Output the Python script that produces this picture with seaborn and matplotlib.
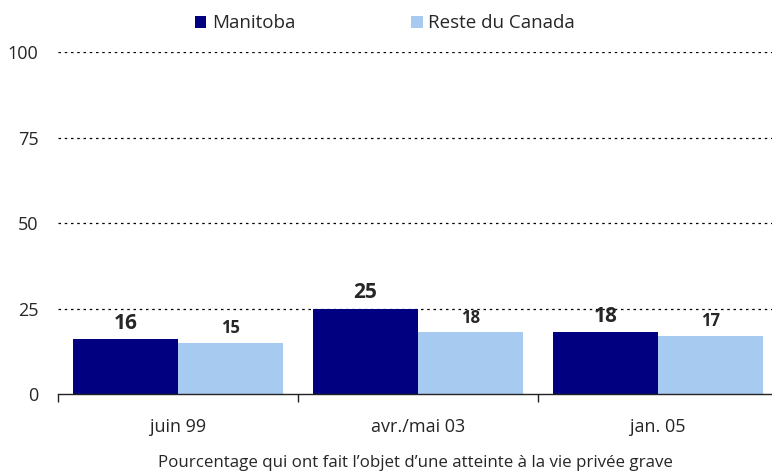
import numpy as np
import pandas as pd
import seaborn as sns
import matplotlib.pyplot as plt
from matplotlib.ticker import FixedLocator

periods = ["juin 99", "avr./mai 03", "jan. 05"]
manitoba = [16, 25, 18]
reste = [15, 18, 17]
series_names = ["Manitoba", "Reste du Canada"]
colors = ["#000080", "#A6CAF0"]

df = pd.DataFrame({
    "period": periods * 2,
    "value": manitoba + reste,
    "region": [series_names[0]] * 3 + [series_names[1]] * 3,
})

sns.set_style("white")
plt.rcParams['font.family'] = ['Open Sans', 'DejaVu Sans']

fig = plt.figure(figsize=(7.72, 4.75), dpi=100)
ax = fig.add_axes([0.0751, 0.1705, 0.9249, 0.72])

sns.barplot(
    data=df, x="period", y="value", hue="region",
    palette=colors, width=0.875, gap=0, saturation=1,
    edgecolor="none", linewidth=0, ax=ax, legend=True,
)

ax.set_ylim(0, 100)
ax.set_xlim(-0.5, 2.475)
ax.set_yticks([0, 25, 50, 75, 100])
ax.tick_params(axis="y", length=0, labelsize=13, pad=14)
ax.tick_params(axis="x", which="major", length=0, labelsize=13, pad=17)
ax.xaxis.set_minor_locator(FixedLocator([-0.5, 0.5, 1.5]))
ax.tick_params(axis="x", which="minor", bottom=True, length=6, width=1,
               color="#222222", direction="out")

for y in [25, 50, 75, 100]:
    ax.axhline(y, color="black", linestyle=(0, (2, 3)), linewidth=0.9, zorder=0)

for s in ["left", "right", "top"]:
    ax.spines[s].set_visible(False)
ax.spines["bottom"].set_color("#222222")
ax.spines["bottom"].set_linewidth(1)

# value labels
off = 0.875 / 4
for i, v in enumerate(manitoba):
    ax.annotate(str(v), (i - off, v), xytext=(0, 4), textcoords="offset points",
                ha="center", va="bottom", fontsize=15, fontweight="bold")
for i, v in enumerate(reste):
    ax.annotate(str(v), (i + off, v), xytext=(0, 4), textcoords="offset points",
                ha="center", va="bottom", fontsize=12, fontweight="bold")

ax.set_ylabel("")
ax.set_xlabel("Pourcentage qui ont fait l\u2019objet d\u2019une atteinte à la vie privée grave",
              fontsize=12.2, labelpad=14)

leg = ax.legend(loc="upper center", bbox_to_anchor=(0.458, 1.16), ncol=2, frameon=False,
                fontsize=13.5, handlelength=0.6, handleheight=0.6, handletextpad=0.3,
                columnspacing=6.2)

fig.savefig("out.png", dpi=100)
